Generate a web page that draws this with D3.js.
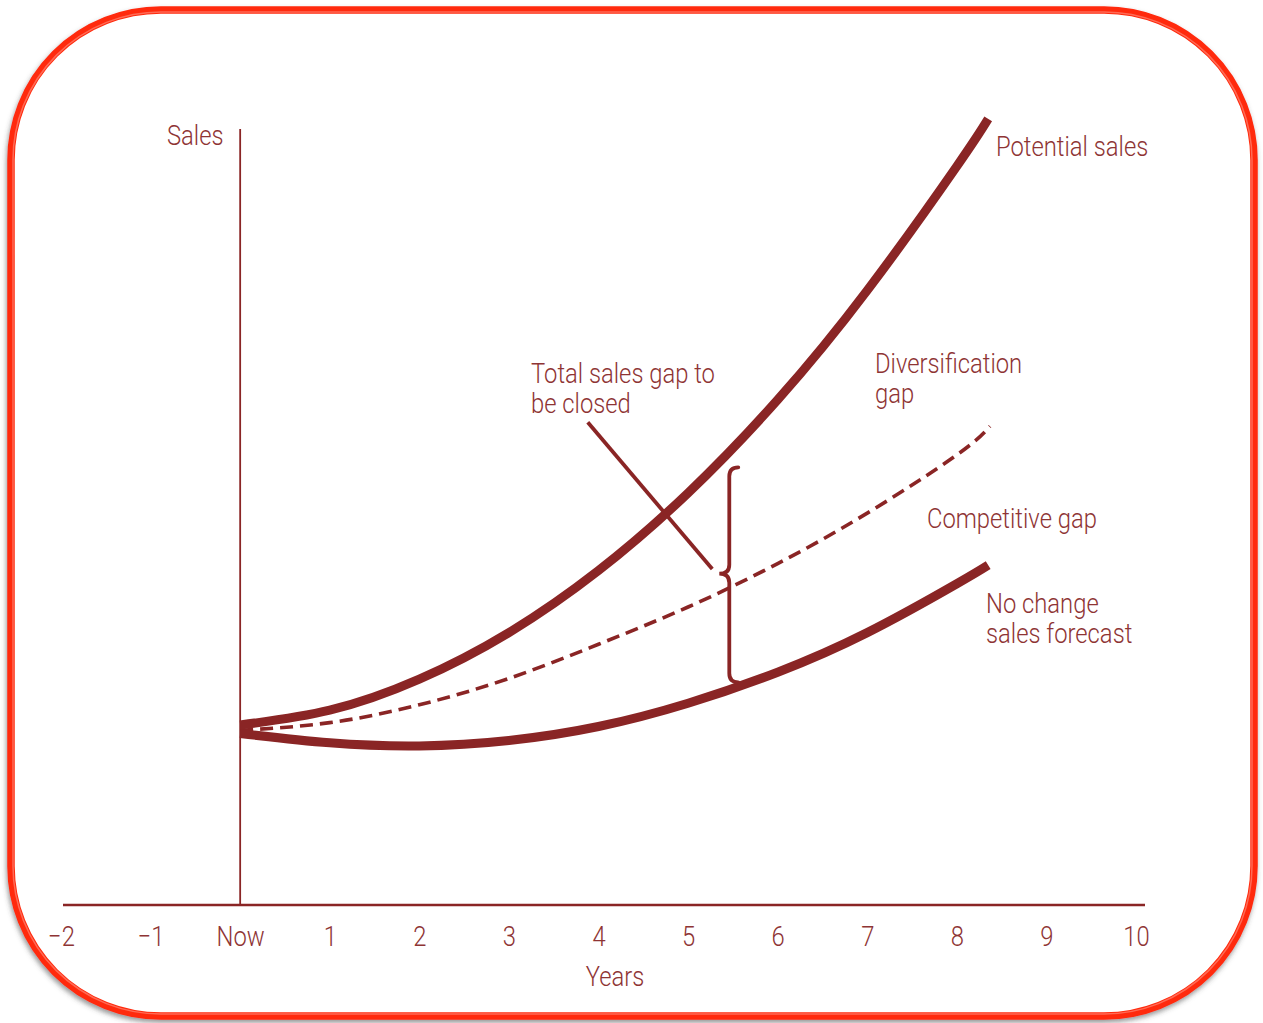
<!DOCTYPE html>
<html>
<head>
<meta charset="utf-8">
<script src="https://cdn.jsdelivr.net/npm/d3@7"></script>
<style>
  html, body { margin: 0; padding: 0; background: #ffffff; }
  svg { display: block; }
</style>
</head>
<body>
<svg id="chart" width="1263" height="1023"></svg>
<script>
// ---- Data: sales projections (index units) by year from now ----
const potentialYears   = [0, 1, 2, 3, 4, 5, 6, 7, 8, 8.35];
const potentialSales   = [23.2, 25.1, 29.1, 35.1, 43.1, 53.1, 65.1, 79.2, 95.2, 101.3];

const competitiveYears = [0, 1, 2, 3, 4, 5, 6, 7, 8, 8.37];
const competitiveSales = [22.5, 23.5, 25.8, 29.2, 33.6, 38.4, 44.0, 50.5, 58.0, 61.7];

const forecastYears    = [0, 1, 2, 3, 4, 5, 6, 7, 8, 8.35];
const forecastSales    = [22.1, 20.9, 20.5, 21.2, 23.0, 26.0, 30.0, 35.1, 41.4, 43.8];

const tickYears  = [-2, -1, 0, 1, 2, 3, 4, 5, 6, 7, 8, 9, 10];
const tickLabels = ["\u22122", "\u22121", "Now", "1", "2", "3", "4", "5", "6", "7", "8", "9", "10"];

// Annotation anchors (year, sales units)
const gapBracket = { year: 5.46, low: 28.7, high: 56.4, mid: 42.7 };
const gapPointer = { from: [3.88, 62.2], to: [5.27, 43.3] };

// ---- Layout ----
const lineColor = "#8a2525";
const textColor = "#8e3434";
const fontFamily = "Roboto, 'Liberation Sans', Arial, sans-serif";
const fontWeight = 300;
const fontSize = 28;
const squeeze = 0.85;
const leading = 30.5;

const svg = d3.select("#chart");

const x = d3.scaleLinear().domain([-2, 10]).range([61, 1136]);
const y = d3.scaleLinear().domain([0, 100]).range([905, 129]);

// ---- Frame ----
const defs = svg.append("defs");
const shadow = defs.append("filter").attr("id", "frameShadow")
  .attr("x", "-5%").attr("y", "-5%").attr("width", "110%").attr("height", "110%");
shadow.append("feDropShadow")
  .attr("dx", -1).attr("dy", 3).attr("stdDeviation", 2.5)
  .attr("flood-color", "#444").attr("flood-opacity", 0.55);

svg.append("rect")
  .attr("x", 11).attr("y", 10).attr("width", 1243).attr("height", 1006)
  .attr("rx", 150).attr("ry", 150)
  .attr("fill", "#ffffff")
  .attr("stroke", "#ff2a0c").attr("stroke-width", 7.5)
  .attr("filter", "url(#frameShadow)");
svg.append("rect")
  .attr("x", 13).attr("y", 12).attr("width", 1239).attr("height", 1002)
  .attr("rx", 148).attr("ry", 148)
  .attr("fill", "none")
  .attr("stroke", "#ff7a68").attr("stroke-width", 1.5).attr("opacity", 0.8);

// ---- Axes ----
const g = svg.append("g");

const xAxis = d3.axisBottom(x)
  .tickValues(tickYears)
  .tickSize(0)
  .tickPadding(0)
  .tickFormat((d, i) => tickLabels[i]);

const xAxisG = g.append("g")
  .attr("transform", `translate(0,${y(0)})`)
  .call(xAxis);
xAxisG.select(".domain")
  .attr("d", `M${x(-2) + 2},0H${x(10) + 9}`)
  .attr("stroke", lineColor).attr("stroke-width", 2.5);
xAxisG.selectAll(".tick text")
  .attr("y", 0).attr("dy", 0)
  .attr("fill", textColor)
  .attr("font-family", fontFamily)
  .attr("font-weight", fontWeight)
  .attr("font-size", fontSize)
  .attr("text-anchor", "middle")
  .attr("transform", `translate(0,41) scale(${squeeze},1)`);

// vertical sales axis at "Now"
g.append("line")
  .attr("x1", x(0)).attr("x2", x(0))
  .attr("y1", y(0)).attr("y2", y(100))
  .attr("stroke", lineColor).attr("stroke-width", 1.8);

// ---- Curves ----
const line = d3.line()
  .x(d => x(d[0]))
  .y(d => y(d[1]))
  .curve(d3.curveNatural);

const zip = (xs, ys) => xs.map((v, i) => [v, ys[i]]);

g.append("path")
  .datum(zip(competitiveYears, competitiveSales))
  .attr("d", line)
  .attr("fill", "none")
  .attr("stroke", lineColor)
  .attr("stroke-width", 3.6)
  .attr("stroke-dasharray", "13,7");

g.append("path")
  .datum(zip(forecastYears, forecastSales))
  .attr("d", line)
  .attr("fill", "none")
  .attr("stroke", lineColor)
  .attr("stroke-width", 9);

g.append("path")
  .datum(zip(potentialYears, potentialSales))
  .attr("d", line)
  .attr("fill", "none")
  .attr("stroke", lineColor)
  .attr("stroke-width", 9);

// ---- Gap bracket and pointer ----
const bx = x(gapBracket.year);
const bt = y(gapBracket.high), bb = y(gapBracket.low), bm = y(gapBracket.mid);
const hook = 9, bend = 9, tip = 10;
const brace = d3.path();
brace.moveTo(bx + hook, bt);
brace.quadraticCurveTo(bx, bt, bx, bt + bend);
brace.lineTo(bx, bm - bend);
brace.quadraticCurveTo(bx, bm, bx - tip, bm);
brace.quadraticCurveTo(bx, bm, bx, bm + bend);
brace.lineTo(bx, bb - bend);
brace.quadraticCurveTo(bx, bb, bx + hook, bb);
g.append("path")
  .attr("d", brace.toString())
  .attr("fill", "none")
  .attr("stroke", lineColor)
  .attr("stroke-width", 3.8)
  .attr("stroke-linecap", "round");

g.append("line")
  .attr("x1", x(gapPointer.from[0])).attr("y1", y(gapPointer.from[1]))
  .attr("x2", x(gapPointer.to[0])).attr("y2", y(gapPointer.to[1]))
  .attr("stroke", lineColor).attr("stroke-width", 3.8);

// ---- Labels (multi-line labels share one text element) ----
function label(px, py, lines, anchor = "start") {
  const t = g.append("text")
    .attr("transform", `translate(${px},${py}) scale(${squeeze},1)`)
    .attr("text-anchor", anchor)
    .attr("fill", textColor)
    .attr("font-family", fontFamily)
    .attr("font-weight", fontWeight)
    .attr("font-size", fontSize);
  [].concat(lines).forEach((s, i) => {
    t.append("tspan").attr("x", 0).attr("y", i * leading).text(s);
  });
}

label(167, 145, "Sales");
label(615, 986, "Years", "middle");
label(996, 156, "Potential sales");
label(531, 383, ["Total sales gap to", "be closed"]);
label(875, 373, ["Diversification", "gap"]);
label(927, 528, "Competitive gap");
label(986, 613, ["No change", "sales forecast"]);
</script>
</body>
</html>
